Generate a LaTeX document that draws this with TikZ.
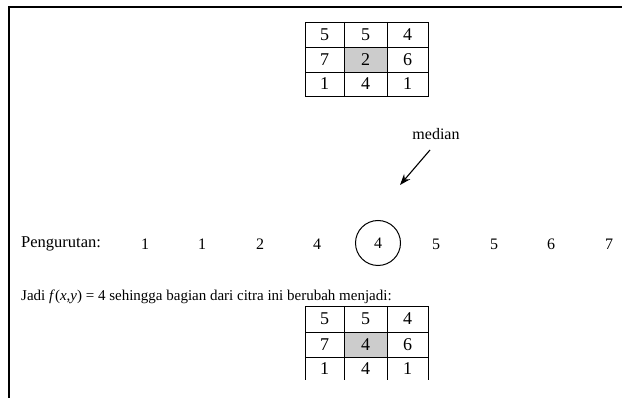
\documentclass[tikz,border=0pt]{standalone}
\usepackage{fontspec}
\setmainfont{Liberation Serif}
\usetikzlibrary{arrows.meta}
\begin{document}
\begin{tikzpicture}[x=1pt,y=-1pt,
  txt/.style={font=\fontsize{16}{18}\selectfont, inner sep=0pt},
  jtxt/.style={font=\fontsize{15}{17}\selectfont, inner sep=0pt},
  cellnum/.style={font=\fontsize{18}{20}\selectfont, inner sep=0pt},
  grid/.style={line width=0.9pt},
  frame/.style={line width=2.6pt},
  shade/.style={fill=black!20}]
\useasboundingbox (0,0) rectangle (622,398);
% frame
\draw[frame] (9,398) -- (9,7) -- (622,7);
% top table
\fill[shade] (344,47) rectangle (387,72);
\draw[grid] (305,22) rectangle (428,96);
\draw[grid] (305,47) -- (428,47) (305,72) -- (428,72);
\draw[grid] (344,22) -- (344,96) (387,22) -- (387,96);
\node[cellnum] (ta1) at (324.5,34.5) {5};
\node[cellnum] (ta2) at (365.5,34.5) {5};
\node[cellnum] (ta3) at (407.5,34.5) {4};
\node[cellnum] (tb1) at (324.5,59.5) {7};
\node[cellnum] (tb2) at (365.5,59.5) {2};
\node[cellnum] (tb3) at (407.5,59.5) {6};
\node[cellnum] (tc1) at (324.5,84) {1};
\node[cellnum] (tc2) at (365.5,84) {4};
\node[cellnum] (tc3) at (407.5,84) {1};
% sorting
\node[txt, anchor=west, font=\fontsize{16.5}{18}\selectfont] (peng) at (21,244) {Pengurutan:};
\node[txt] (n1) at (145,244) {1};
\node[txt] (n2) at (202,244) {1};
\node[txt] (n3) at (260,244) {2};
\node[txt] (n4) at (317,244) {4};
\node[txt, draw, circle, minimum size=45pt, line width=1pt] (n5) at (378,243) {4};
\node[txt] (n6) at (436,244) {5};
\node[txt] (n7) at (494,244) {5};
\node[txt] (n8) at (551,244) {6};
\node[txt] (n9) at (609,244) {7};
\node[txt] (med) at (436,134) {median};
\coordinate (ms) at (430,150);
\coordinate (mt) at (400,185);
\draw[line width=1.1pt, -{Stealth[length=11pt,width=8pt]}] (ms) -- (mt);
% Jadi
\node[jtxt, anchor=west] (jadi) at (21,297) {Jadi \textit{f}(\textit{x},\textit{y}) = 4 sehingga bagian dari citra ini berubah menjadi:};
% bottom table
\fill[shade] (344,332) rectangle (387,357);
\draw[grid] (305,380) -- (305,306) -- (428,306) -- (428,380);
\draw[grid] (305,332) -- (428,332) (305,357) -- (428,357);
\draw[grid] (344,306) -- (344,380) (387,306) -- (387,380);
\node[cellnum] (ba1) at (324.5,319) {5};
\node[cellnum] (ba2) at (365.5,319) {5};
\node[cellnum] (ba3) at (407.5,319) {4};
\node[cellnum] (bb1) at (324.5,344.5) {7};
\node[cellnum] (bb2) at (365.5,344.5) {4};
\node[cellnum] (bb3) at (407.5,344.5) {6};
\node[cellnum] (bc1) at (324.5,369) {1};
\node[cellnum] (bc2) at (365.5,369) {4};
\node[cellnum] (bc3) at (407.5,369) {1};
\end{tikzpicture}
\end{document}
